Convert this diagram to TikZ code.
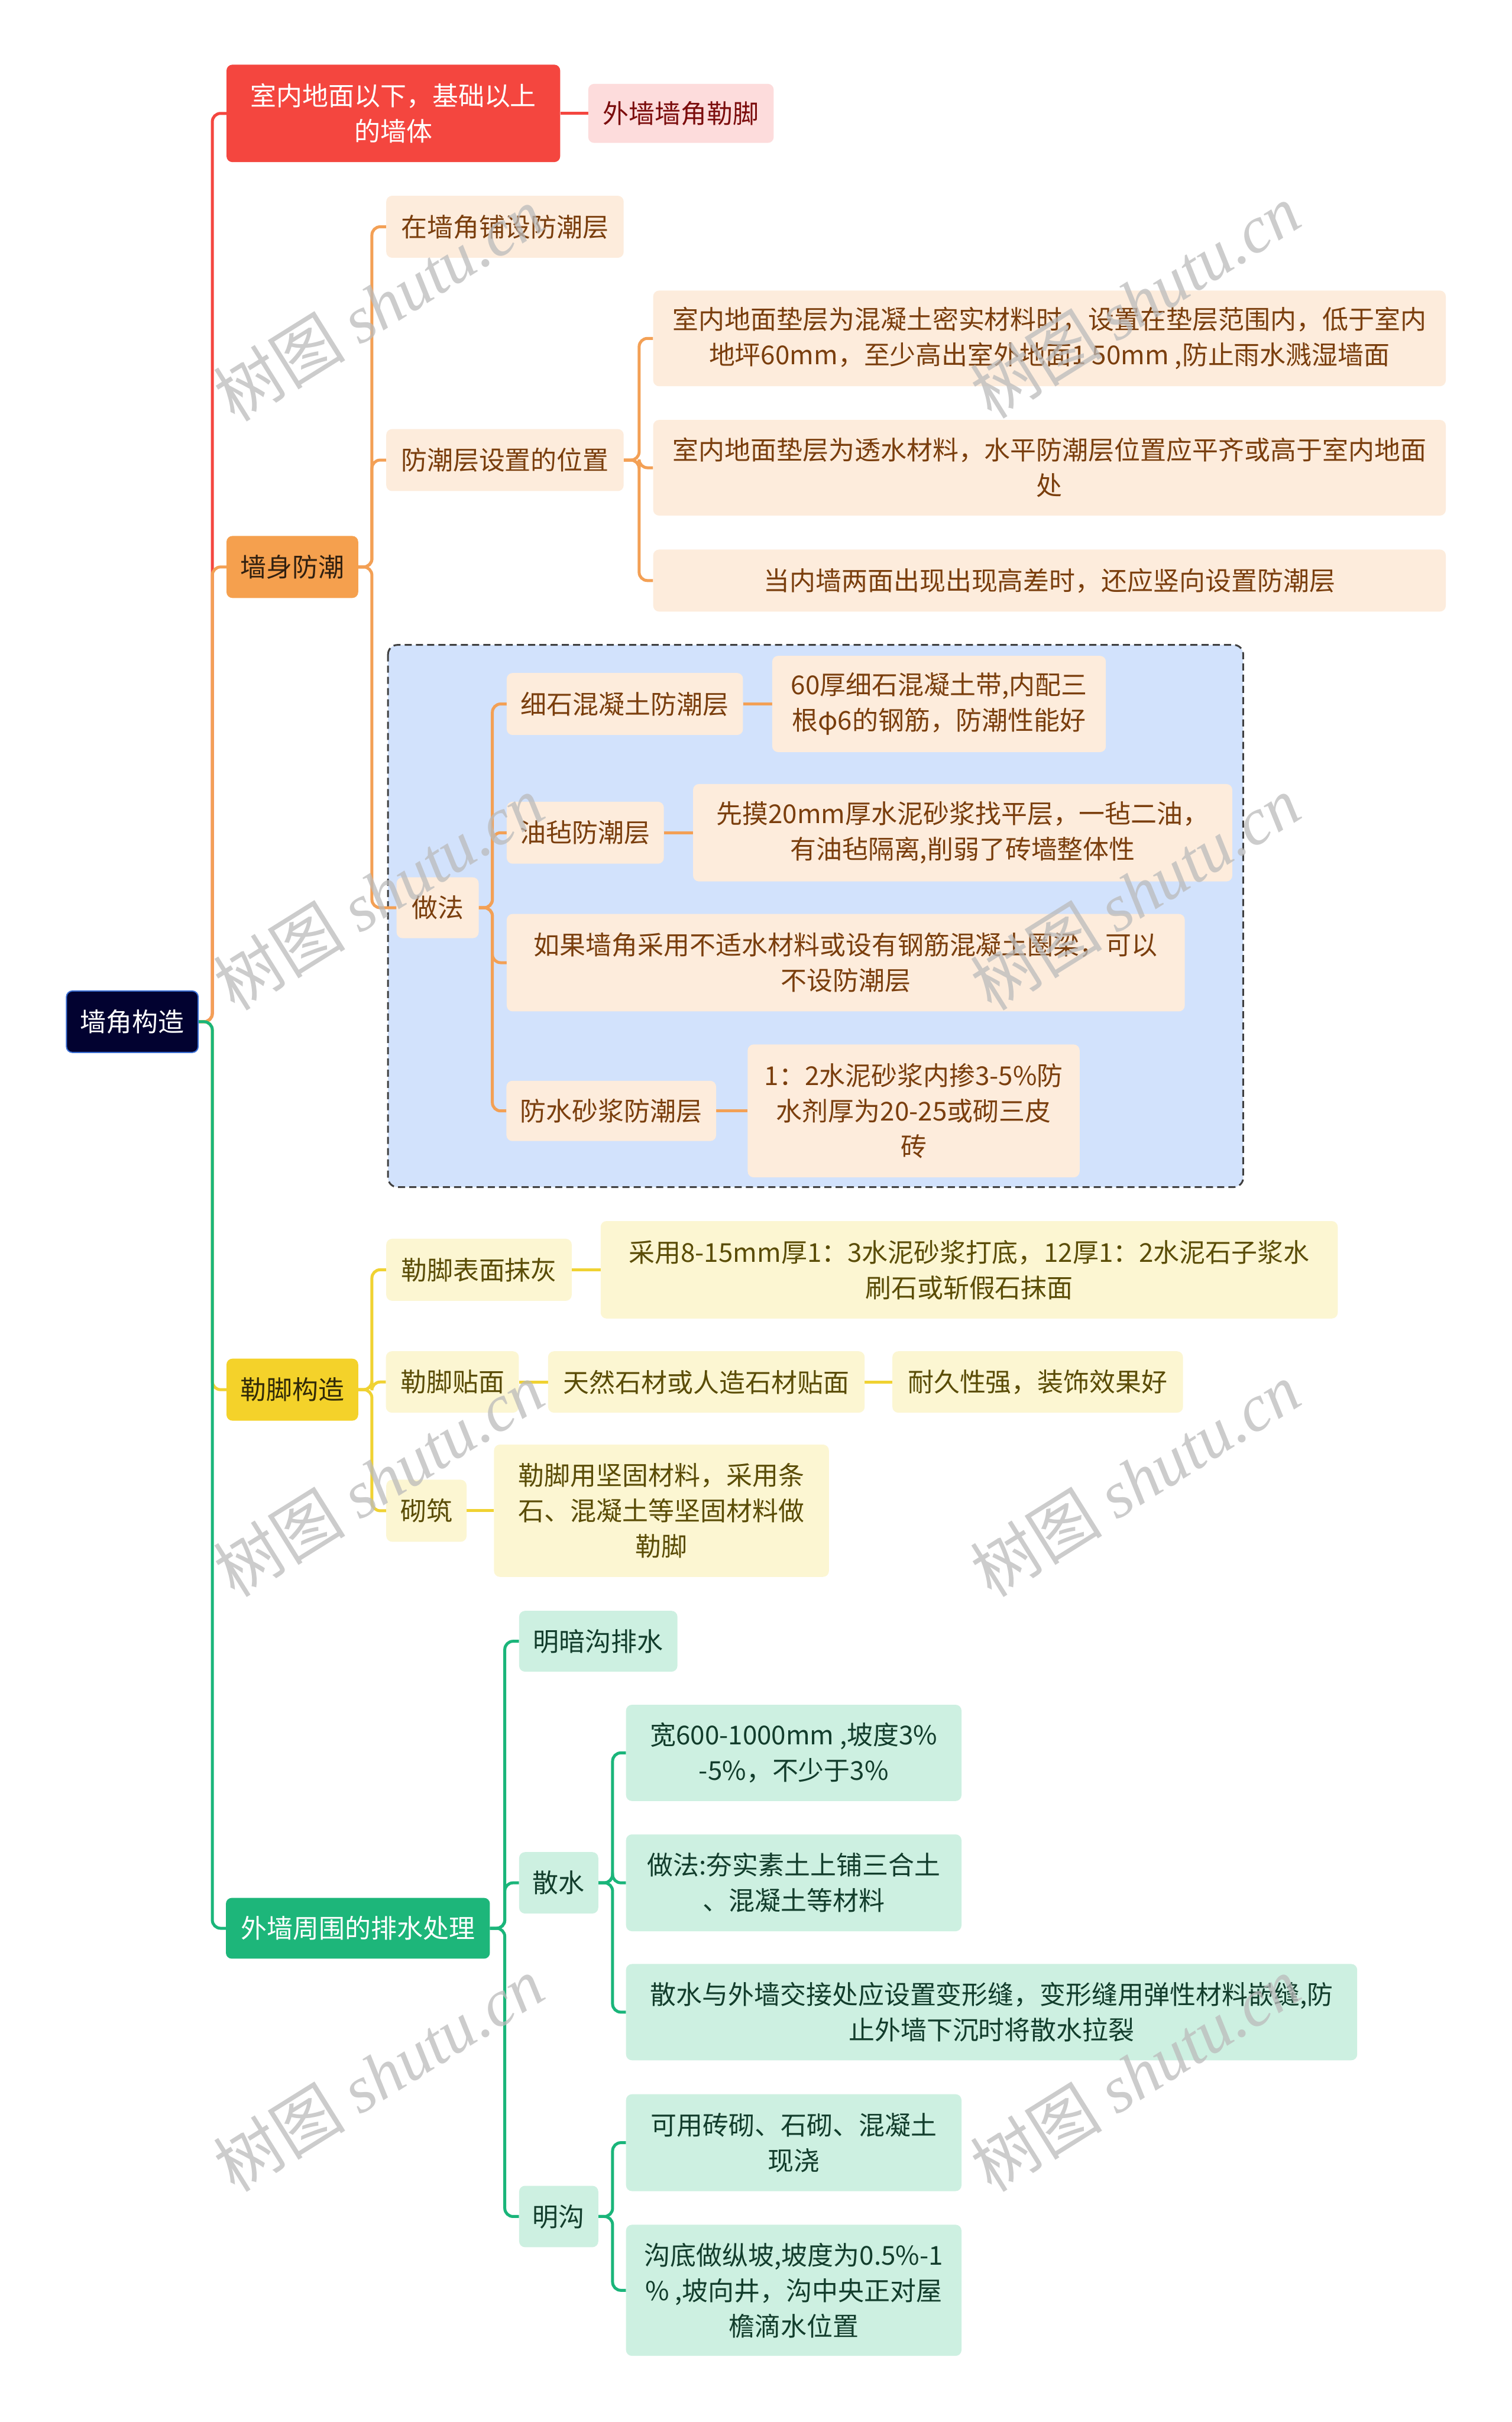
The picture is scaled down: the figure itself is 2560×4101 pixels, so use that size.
\documentclass[tikz,border=0pt]{standalone}
\usepackage{fontspec}
\newfontfamily\cjk{Noto Sans CJK SC}
\newfontfamily\wmserif{Liberation Serif}
\definecolor{rootfill}{HTML}{020230}
\definecolor{rootline}{HTML}{3B6FD4}
\definecolor{redm}{HTML}{F4463F}
\definecolor{redl}{HTML}{FDDCDC}
\definecolor{redt}{HTML}{7B0C0C}
\definecolor{orm}{HTML}{F5A04E}
\definecolor{orl}{HTML}{FDECDC}
\definecolor{ort}{HTML}{7A3E0D}
\definecolor{orline}{HTML}{F3A055}
\definecolor{yem}{HTML}{F4D22A}
\definecolor{yel}{HTML}{FCF6D2}
\definecolor{yet}{HTML}{5A4C06}
\definecolor{yeline}{HTML}{F0D232}
\definecolor{grm}{HTML}{1DB67A}
\definecolor{grl}{HTML}{CDF0E1}
\definecolor{grt}{HTML}{123D2C}
\definecolor{grline}{HTML}{1AB57A}
\definecolor{bluereg}{HTML}{D2E2FC}
\definecolor{wmgray}{HTML}{BBBBBB}
\pgfdeclarelayer{bglayer}
\pgfdeclarelayer{connlayer}
\pgfsetlayers{bglayer,connlayer,main}
\begin{document}
\begin{tikzpicture}[x=1pt,y=-1pt,
  nb/.style={rounded corners=10pt, inner sep=0pt, align=center, font=\cjk\fontsize{44}{60}\selectfont},
  sz/.style 2 args={minimum width=#1pt, minimum height=#2pt},
  rootbox/.style={nb, fill=rootfill, draw=rootline, line width=2pt, text=white},
  redbox/.style={nb, fill=redm, text=white},
  pinkbox/.style={nb, fill=redl, text=redt},
  orbox/.style={nb, fill=orm, text=black!80!orm},
  orlbox/.style={nb, fill=orl, text=ort},
  yebox/.style={nb, fill=yem, text=black!80!yem},
  yelbox/.style={nb, fill=yel, text=yet},
  grbox/.style={nb, fill=grm, text=white},
  grlbox/.style={nb, fill=grl, text=grt},
  cn/.style={line width=5pt, rounded corners=14pt},
  wm/.style={font=\cjk\fontsize{112}{112}\selectfont, text=wmgray, opacity=0.75, rotate=32}
]
\useasboundingbox (0,0) rectangle (2560,4101);
\begin{pgfonlayer}{bglayer}
\fill[white] (0,0) rectangle (2560,4101);
% blue dashed region
\draw[fill=bluereg, draw=black!75, line width=3pt, dash pattern=on 12pt off 7pt, rounded corners=16pt]
  (657,1092) rectangle (2105,2010);
\end{pgfonlayer}

% nodes
\node[rootbox, sz={223}{104}] (root) at (224,1730) {墙角构造};

\node[redbox, sz={565}{165}] (r1) at (666,192) {室内地面以下，基础以上\\的墙体};
\node[pinkbox, sz={314}{100}] (r1a) at (1153,192) {外墙墙角勒脚};

\node[orbox, sz={223}{105}] (o1) at (495,960) {墙身防潮};
\node[orlbox, sz={402}{105}] (o1a) at (855,384) {在墙角铺设防潮层};
\node[orlbox, sz={402}{105}] (o1b) at (855,779) {防潮层设置的位置};
\node[orlbox, sz={1342}{162}] (o1b1) at (1777,573) {室内地面垫层为混凝土密实材料时，设置在垫层范围内，低于室内\\地坪60mm，至少高出室外地面1 50mm ,防止雨水溅湿墙面};
\node[orlbox, sz={1342}{162}] (o1b2) at (1777,792) {室内地面垫层为透水材料，水平防潮层位置应平齐或高于室内地面\\处};
\node[orlbox, sz={1342}{105}] (o1b3) at (1777,983) {当内墙两面出现出现高差时，还应竖向设置防潮层};
\node[orlbox, sz={139}{103}] (o1c) at (741,1537) {做法};
\node[orlbox, sz={400}{105}] (d1) at (1058,1192) {细石混凝土防潮层};
\node[orlbox, sz={565}{163}] (d1a) at (1590,1192) {60厚细石混凝土带,内配三\\根φ6的钢筋，防潮性能好};
\node[orlbox, sz={266}{105}] (d2) at (991,1410) {油毡防潮层};
\node[orlbox, sz={913}{165}] (d2a) at (1630,1410) {先摸20mm厚水泥砂浆找平层，一毡二油，\\有油毡隔离,削弱了砖墙整体性};
\node[orlbox, sz={1148}{165}] (d3) at (1432,1630) {如果墙角采用不适水材料或设有钢筋混凝土圈梁，可以\\不设防潮层};
\node[orlbox, sz={355}{102}] (d4) at (1035,1881) {防水砂浆防潮层};
\node[orlbox, sz={562}{225}] (d4a) at (1547,1881) {1：2水泥砂浆内掺3-5\%防\\水剂厚为20-25或砌三皮\\砖};

\node[yebox, sz={223}{105}] (y1) at (495,2353) {勒脚构造};
\node[yelbox, sz={314}{105}] (y1a) at (811,2150) {勒脚表面抹灰};
\node[yelbox, sz={1248}{165}] (y1a1) at (1641,2150) {采用8-15mm厚1：3水泥砂浆打底，12厚1：2水泥石子浆水\\刷石或斩假石抹面};
\node[yelbox, sz={225}{104}] (y1b) at (766,2340) {勒脚贴面};
\node[yelbox, sz={536}{104}] (y1b1) at (1196,2340) {天然石材或人造石材贴面};
\node[yelbox, sz={492}{104}] (y1b2) at (1757,2340) {耐久性强，装饰效果好};
\node[yelbox, sz={136}{105}] (y1c) at (722,2558) {砌筑};
\node[yelbox, sz={567}{224}] (y1c1) at (1120,2558) {勒脚用坚固材料，采用条\\石、混凝土等坚固材料做\\勒脚};

\node[grbox, sz={447}{103}] (g1) at (606,3265) {外墙周围的排水处理};
\node[grlbox, sz={268}{103}] (g1a) at (1013,2779) {明暗沟排水};
\node[grlbox, sz={134}{104}] (g1b) at (946,3188) {散水};
\node[grlbox, sz={568}{163}] (g1b1) at (1344,2968) {宽600-1000mm ,坡度3\%\\-5\%，不少于3\%};
\node[grlbox, sz={568}{164}] (g1b2) at (1344,3188) {做法:夯实素土上铺三合土\\、混凝土等材料};
\node[grlbox, sz={1238}{163}] (g1b3) at (1679,3407) {散水与外墙交接处应设置变形缝，变形缝用弹性材料嵌缝,防\\止外墙下沉时将散水拉裂};
\node[grlbox, sz={134}{104}] (g1c) at (946,3753) {明沟};
\node[grlbox, sz={568}{164}] (g1c1) at (1344,3628) {可用砖砌、石砌、混凝土\\现浇};
\node[grlbox, sz={568}{222}] (g1c2) at (1344,3878) {沟底做纵坡,坡度为0.5\%-1\\\% ,坡向井，沟中央正对屋\\檐滴水位置};

\begin{pgfonlayer}{connlayer}
% trunk
\draw[cn, redm] (root.east) -- ++(23,0) |- (r1.west);
\draw[cn, orline] (root.east) -- ++(23,0) |- (o1.west);
\draw[cn, yeline] (root.east) -- ++(23,0) |- (y1.west);
\draw[cn, grline] (root.east) -- ++(23,0) |- (g1.west);
% red
\draw[cn, redm] (r1.east) -- (r1a.west);
% orange
\draw[cn, orline] (o1.east) -- ++(23,0) |- (o1a.west);
\draw[cn, orline] (o1.east) -- ++(23,0) |- (o1b.west);
\draw[cn, orline] (o1.east) -- ++(23,0) |- (o1c.west);
\draw[cn, orline] (o1b.east) -- ++(26,0) |- (o1b1.west);
\draw[cn, orline] (o1b.east) -- ++(26,0) |- (o1b2.west);
\draw[cn, orline] (o1b.east) -- ++(26,0) |- (o1b3.west);
\draw[cn, orline] (o1c.east) -- ++(23,0) |- (d1.west);
\draw[cn, orline] (o1c.east) -- ++(23,0) |- (d2.west);
\draw[cn, orline] (o1c.east) -- ++(23,0) |- (d3.west);
\draw[cn, orline] (o1c.east) -- ++(23,0) |- (d4.west);
\draw[cn, orline] (d1.east) -- (d1a.west);
\draw[cn, orline] (d2.east) -- (d2a.west);
\draw[cn, orline] (d4.east) -- (d4a.west);
% yellow
\draw[cn, yeline] (y1.east) -- ++(23,0) |- (y1a.west);
\draw[cn, yeline] (y1.east) -- ++(23,0) |- (y1b.west);
\draw[cn, yeline] (y1.east) -- ++(23,0) |- (y1c.west);
\draw[cn, yeline] (y1a.east) -- (y1a1.west);
\draw[cn, yeline] (y1b.east) -- (y1b1.west);
\draw[cn, yeline] (y1b1.east) -- (y1b2.west);
\draw[cn, yeline] (y1c.east) -- (y1c1.west);
% green
\draw[cn, grline] (g1.east) -- ++(25,0) |- (g1a.west);
\draw[cn, grline] (g1.east) -- ++(25,0) |- (g1b.west);
\draw[cn, grline] (g1.east) -- ++(25,0) |- (g1c.west);
\draw[cn, grline] (g1b.east) -- ++(24,0) |- (g1b1.west);
\draw[cn, grline] (g1b.east) -- ++(24,0) |- (g1b2.west);
\draw[cn, grline] (g1b.east) -- ++(24,0) |- (g1b3.west);
\draw[cn, grline] (g1c.east) -- ++(24,0) |- (g1c1.west);
\draw[cn, grline] (g1c.east) -- ++(24,0) |- (g1c2.west);
\end{pgfonlayer}

% watermarks
\node[wm] (w1) at (641,515) {树图 {\wmserif\itshape shutu.cn}};
\node[wm] (w2) at (1922,510) {树图 {\wmserif\itshape shutu.cn}};
\node[wm] (w3) at (641,1512) {树图 {\wmserif\itshape shutu.cn}};
\node[wm] (w4) at (1922,1512) {树图 {\wmserif\itshape shutu.cn}};
\node[wm] (w5) at (641,2505) {树图 {\wmserif\itshape shutu.cn}};
\node[wm] (w6) at (1922,2505) {树图 {\wmserif\itshape shutu.cn}};
\node[wm] (w7) at (641,3512) {树图 {\wmserif\itshape shutu.cn}};
\node[wm] (w8) at (1922,3512) {树图 {\wmserif\itshape shutu.cn}};
\end{tikzpicture}
\end{document}
